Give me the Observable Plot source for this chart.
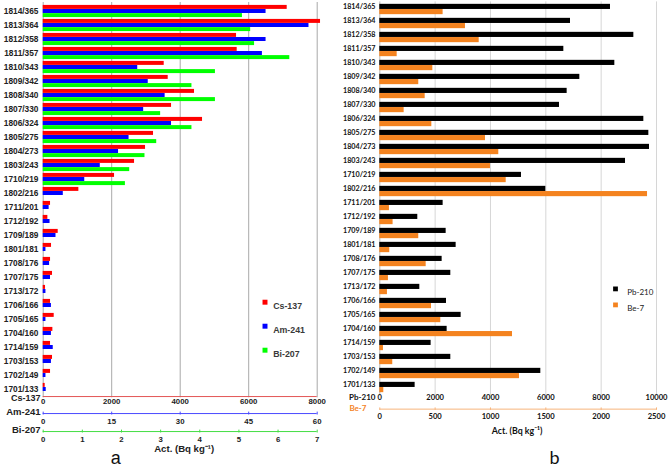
<!DOCTYPE html>
<html><head><meta charset="utf-8">
<script src="https://cdn.jsdelivr.net/npm/d3@7"></script>
<script src="https://cdn.jsdelivr.net/npm/@observablehq/plot@0.6"></script>
<style>
html,body{margin:0;padding:0;background:#fff;}
#wrap{position:relative;width:669px;height:471px;overflow:hidden;background:#fff;}
#left,#right{position:absolute;top:0;}
#left{left:0;} #right{left:335px;}
svg{overflow:visible;}
</style></head><body>
<div id="wrap"><div id="left"></div><div id="right"></div></div>
<script>
const categories = ["1814/365","1813/364","1812/358","1811/357","1810/343","1809/342","1808/340","1807/330","1806/324","1805/275","1804/273","1803/243","1710/219","1802/216","1711/201","1712/192","1709/189","1801/181","1708/176","1707/175","1713/172","1706/166","1705/165","1704/160","1714/159","1703/153","1702/149","1701/133"];
const cs137 = [7124,8097,5645,5664,3533,3650,4418,3747,4652,3221,2988,2667,2083,1041,214,136,438,243,214,272,68,214,321,282,214,272,214,58];
const am241 = [48.8,58.2,48.8,48.0,20.7,23.0,26.7,22.0,28.1,18.8,16.5,12.5,9.1,4.4,1.3,1.5,2.8,0.6,1.4,1.6,0.6,1.8,0.6,1.8,2.2,1.8,0.6,0.66];
const bi207 = [5.09,5.30,5.40,6.30,4.40,3.80,4.40,3.00,3.80,2.90,2.60,2.21,2.10,0,0,0,0,0,0,0,0,0,0,0,0,0,0,0];
const pb210 = [8337,6892,9181,6651,8494,7229,6771,6494,9542,9723,9747,8880,5120,6000,2289,1373,2398,2759,2253,2566,1446,2410,2940,2434,1855,2566,5819,1277];
const be7 = [572,774,898,157,479,352,410,220,470,955,1075,1000,1142,2419,87,120,352,90,419,78,69,467,551,1199,33,117,1262,36];

const csTicks = [0,2000,4000,6000,8000];
const amTicks = [0,15,30,45,60];
const biTicks = [0,1,2,3,4,5,6,7];
const pbTicks = [0,2000,4000,6000,8000,10000];
const beTicks = [0,500,1000,1500,2000,2500];

const leftSeries = ["Cs-137","Am-241","Bi-207"];
const leftColors = ["#ff0000","#0000ff","#00ff00"];
const rightSeries = ["Pb-210","Be-7"];
const rightColors = ["#000000","#f4831f"];
const axisTitle = "Act. (Bq kg⁻¹)";

// ---------- LEFT PANEL ----------
{
  const W = 335, H = 471, mL = 42.7, mR = 18.3, mT = 2, bottom = 397.3;
  const bw = (bottom - mT) / categories.length;
  const lastCat = categories[categories.length - 1];
  const lastC = bottom - bw / 2;
  const barH = 4.1, inset = (bw - barH) / 2;
  const csMax = csTicks[csTicks.length - 1];
  const amK = csMax / amTicks[amTicks.length - 1];
  const biK = csMax / biTicks[biTicks.length - 1];
  const rows = categories.map((c, i) => ({cat: c, cs: cs137[i], am: am241[i] * amK, bi: bi207[i] * biK}));
  const F = "Liberation Sans, Arial, sans-serif";
  const tickIn = (bw - 3) / 2;
  const marks = [
    Plot.ruleX(csTicks, {x: d => d, stroke: "#a9a9a9", strokeWidth: 1}),
    Plot.barX(rows, {y: "cat", x1: 0, x2: "cs", fill: leftColors[0], insetTop: inset, insetBottom: inset, dy: -barH}),
    Plot.barX(rows, {y: "cat", x1: 0, x2: "am", fill: leftColors[1], insetTop: inset, insetBottom: inset, dy: 0}),
    Plot.barX(rows.filter(d => d.bi > 0), {y: "cat", x1: 0, x2: "bi", fill: leftColors[2], insetTop: inset, insetBottom: inset, dy: barH}),
    Plot.text(categories, {y: d => d, frameAnchor: "left", textAnchor: "end", dx: -4.8, text: d => d, fontSize: 8.3, fontWeight: "bold", fill: "#222", fontFamily: F}),
    // Cs axis
    Plot.ruleY([lastCat], {x1: 0, x2: csMax, dy: bottom - lastC, stroke: "#e35555"}),
    Plot.text(csTicks, {x: d => d, frameAnchor: "bottom", dy: 5.9, text: d => String(d), fontSize: 7.8, fontWeight: "bold", fill: "#222", fontFamily: F}),
    // Am axis
    Plot.ruleY([lastCat], {x1: 0, x2: csMax, dy: 414.3 - lastC, stroke: "#4a4aff"}),
    Plot.tickX(amTicks, {x: d => d * amK, y: () => lastCat, dy: 414.3 - lastC, insetTop: tickIn, insetBottom: tickIn, stroke: "#4a4aff"}),
    Plot.text(amTicks, {x: d => d * amK, frameAnchor: "bottom", dy: 25.7, text: d => String(d), fontSize: 7.8, fontWeight: "bold", fill: "#222", fontFamily: F}),
    // Bi axis
    Plot.ruleY([lastCat], {x1: 0, x2: csMax, dy: 432.3 - lastC, stroke: "#44dd44"}),
    Plot.tickX(biTicks, {x: d => d * biK, y: () => lastCat, dy: 432.3 - lastC, insetTop: tickIn, insetBottom: tickIn, stroke: "#44dd44"}),
    Plot.text(biTicks, {x: d => d * biK, frameAnchor: "bottom", dy: 44.2, text: d => String(d), fontSize: 7.8, fontWeight: "bold", fill: "#222", fontFamily: F}),
    // axis names
    ...leftSeries.map((s, i) => Plot.text([s], {frameAnchor: "bottom-left", textAnchor: "end", dx: -2.7, dy: [3.4, 17.2, 35.2][i], text: d => d, fontSize: [9, 9.5, 9.5][i], fontWeight: "bold", fill: "#222", fontFamily: F})),
    Plot.text([axisTitle], {frameAnchor: "bottom", dx: 4, dy: 54.4, text: d => d, fontSize: 9.6, fontWeight: "bold", fill: "#222", fontFamily: F}),
    Plot.text(["a"], {frameAnchor: "bottom", dx: -64.4, dy: 66.3, text: d => d, fontSize: 18, fill: "#111", fontFamily: F}),
    // legend
    ...leftSeries.map((s, i) => Plot.dot([s], {frameAnchor: "top-left", dx: 221.8, dy: 299.7 + 24 * i, symbol: "square", r: 2.8, fill: leftColors[i], stroke: null})),
    ...leftSeries.map((s, i) => Plot.text([s], {frameAnchor: "top-left", dx: 230, dy: 300 + 24 * i, textAnchor: "start", text: d => d, fontSize: 8.8, fontWeight: "bold", fill: "#3a3a3a", fontFamily: F}))
  ];
  const chart = Plot.plot({
    width: W, height: H, marginLeft: mL, marginRight: mR, marginTop: mT, marginBottom: H - bottom,
    x: {domain: [0, csMax], axis: null},
    y: {domain: categories, padding: 0, axis: null},
    style: {fontFamily: F, background: "transparent"},
    marks
  });
  document.getElementById("left").appendChild(chart);
}

// ---------- RIGHT PANEL ----------
{
  const W = 334, H = 471, mL = 44.3, mR = 13, mT = 1.4, bottom = 395.4;
  const bw = (bottom - mT) / categories.length;
  const lastCat = categories[categories.length - 1];
  const lastC = bottom - bw / 2;
  const barH = 5.2, inset = (bw - barH) / 2;
  const pbMax = pbTicks[pbTicks.length - 1];
  const beK = pbMax / beTicks[beTicks.length - 1];
  const rows = categories.map((c, i) => ({cat: c, pb: pb210[i], be: be7[i] * beK}));
  const F = "Lato, 'Open Sans', sans-serif";
  const tickIn = (bw - 2.5) / 2;
  const marks = [
    Plot.ruleX(pbTicks.slice(1), {x: d => d, stroke: "#d6d6d6", strokeWidth: 1}),
    Plot.ruleX([0], {x: d => d, stroke: "#b5b5b5", strokeWidth: 1}),
    Plot.barX(rows, {y: "cat", x1: 0, x2: "pb", fill: rightColors[0], insetTop: inset, insetBottom: inset, dy: -barH / 2}),
    Plot.barX(rows, {y: "cat", x1: 0, x2: "be", fill: rightColors[1], insetTop: inset, insetBottom: inset, dy: barH / 2}),
    Plot.text(categories, {y: d => d, frameAnchor: "left", textAnchor: "end", dx: -4.3, dy: -2.6, text: d => d, fontSize: 7.2, fontWeight: "bold", fill: "#111", fontFamily: F}),
    // Pb axis labels
    Plot.text(pbTicks, {x: d => d, frameAnchor: "bottom", dy: 4.4, text: d => String(d), fontSize: 7.6, fontWeight: "bold", fill: "#111", fontFamily: F}),
    // Be axis
    Plot.ruleY([lastCat], {x1: 0, x2: pbMax, dy: 410 - lastC, stroke: "#f7b47c"}),
    Plot.tickX(beTicks, {x: d => d * beK, y: () => lastCat, dy: 410 - lastC, insetTop: tickIn, insetBottom: tickIn, stroke: "#f7b47c"}),
    Plot.text(beTicks, {x: d => d * beK, frameAnchor: "bottom", dy: 23.1, text: d => String(d), fontSize: 7.6, fontWeight: "bold", fill: "#111", fontFamily: F}),
    // axis names
    Plot.text([rightSeries[0]], {frameAnchor: "bottom-left", textAnchor: "end", dx: -4.3, dy: 4.4, text: d => d, fontSize: 8, fontWeight: "bold", fill: "#111", fontFamily: F}),
    Plot.text([rightSeries[1]], {frameAnchor: "bottom-left", textAnchor: "end", dx: -13.3, dy: 14.6, text: d => d, fontSize: 8, fontWeight: "bold", fill: rightColors[1], fontFamily: F}),
    Plot.text([axisTitle], {frameAnchor: "bottom", dx: -1, dy: 37.6, text: d => d, fontSize: 8.8, fontWeight: "bold", fill: "#111", fontFamily: F}),
    Plot.text(["b"], {frameAnchor: "bottom", dx: 36.3, dy: 68.5, text: d => d, fontSize: 18, fill: "#111", fontFamily: F}),
    // legend
    ...rightSeries.map((s, i) => Plot.dot([s], {frameAnchor: "top-left", dx: 235.7, dy: 287 + 16 * i, symbol: "square", r: 2.7, fill: rightColors[i], stroke: null})),
    ...rightSeries.map((s, i) => Plot.text([s], {frameAnchor: "top-left", dx: 247.4, dy: 287.5 + 16 * i, textAnchor: "start", text: d => d, fontSize: 8, fill: "#222", fontFamily: F}))
  ];
  const chart = Plot.plot({
    width: W, height: H, marginLeft: mL, marginRight: mR, marginTop: mT, marginBottom: H - bottom,
    x: {domain: [0, pbMax], axis: null},
    y: {domain: categories, padding: 0, axis: null},
    style: {fontFamily: F, background: "transparent"},
    marks
  });
  document.getElementById("right").appendChild(chart);
}
</script>
</body></html>
